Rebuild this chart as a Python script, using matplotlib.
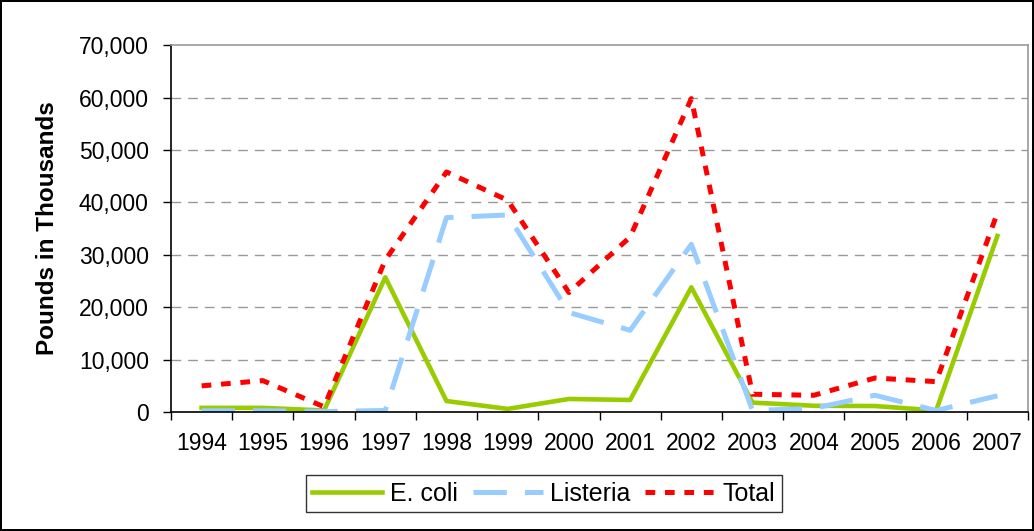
import numpy as np
import matplotlib
matplotlib.use('Agg')
import matplotlib.pyplot as plt

plt.rcParams['font.family'] = ['Liberation Sans', 'DejaVu Sans']
plt.rcParams['lines.scale_dashes'] = False

years = ["1994", "1995", "1996", "1997", "1998", "1999", "2000",
         "2001", "2002", "2003", "2004", "2005", "2006", "2007"]
ecoli = [800, 800, 300, 25700, 2100, 600, 2500, 2300, 23800, 1800, 1200, 1150, 300, 33600]
listeria = [250, 250, 100, 300, 37100, 37600, 19000, 15600, 32000, 300, 700, 3200, 300, 3100]
total = [5000, 6000, 1000, 29000, 45800, 40400, 22800, 33400, 59800, 3400, 3200, 6500, 5800, 38000]

fig = plt.figure(figsize=(10.34, 5.31), dpi=100)
fig.patch.set_edgecolor('black')
fig.patch.set_linewidth(1.5)
ax = fig.add_axes([0.1654, 0.224, 0.8288, 0.691])

x = np.arange(len(years))
ax.plot(x, ecoli, color='#99cc00', lw=3.3, label='E. coli')
ax.plot(x, listeria, color='#99ccff', lw=3.6, dashes=(24, 13), label='Listeria')
ax.plot(x, total, color='#ff0000', lw=3.6, dashes=(7, 7), label='Total')

ax.set_xlim(-0.5, len(years) - 0.5)
ax.set_ylim(0, 70000)
yt = np.arange(0, 70001, 10000)
ax.set_yticks(yt)
ax.set_yticklabels([f"{v:,}" for v in yt], fontsize=16.5)
ax.set_xticks(x)
ax.set_xticklabels(years, fontsize=16.5)
ax.tick_params(axis='x', which='major', length=0, pad=14)
ax.set_xticks(np.arange(-0.5, len(years)), minor=True)
ax.tick_params(axis='x', which='minor', length=6, width=1, direction='out')
ax.tick_params(axis='y', length=6, width=1, direction='out', pad=10)

for v in yt[1:-1]:
    ax.axhline(v, color='#999999', lw=1, dashes=(7, 5), zorder=0)

ax.spines['left'].set_color('black')
ax.spines['bottom'].set_color('black')
ax.spines['top'].set_color('#999999')
ax.spines['right'].set_color('#999999')
for s in ax.spines.values():
    s.set_linewidth(1.2)

ax.set_ylabel('Pounds in Thousands', fontsize=17.5, fontweight='bold', labelpad=14)

leg = fig.legend(loc='center', bbox_to_anchor=(0.526, 0.0705), ncol=3, fontsize=18,
                 frameon=True, fancybox=False, edgecolor='black', handlelength=2.8,
                 columnspacing=0.6, handletextpad=0.3, borderpad=0.25)
leg.get_frame().set_linewidth(1)

fig.savefig('out.png', dpi=100)
